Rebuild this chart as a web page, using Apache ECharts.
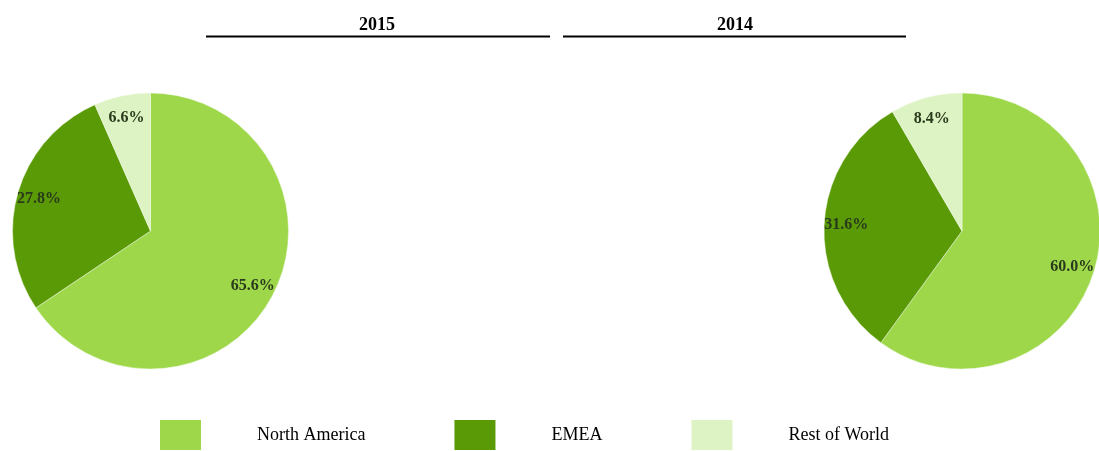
<!DOCTYPE html>
<html>
<head>
<meta charset="utf-8">
<script src="https://cdn.jsdelivr.net/npm/echarts@6/dist/echarts.min.js"></script>
<style>
  html, body { margin: 0; padding: 0; background: #fff; }
  #chart { width: 1099px; height: 451px; }
</style>
</head>
<body>
<div id="chart"></div>
<script>
const regions = ['North America', 'EMEA', 'Rest of World']
const colors = ['#9ed84a', '#5a9a06', '#def3c4']
const years = ['2015', '2014']
const share2015 = [65.6, 27.8, 6.6]
const share2014 = [60.0, 31.6, 8.4]

const chart = echarts.init(document.getElementById('chart'))

const toData = (vals, transparent) =>
  vals.map((v, i) => ({
    name: regions[i],
    value: v,
    itemStyle: { color: transparent ? 'rgba(0,0,0,0)' : colors[i] }
  }))

const pieSeries = (vals, cx) => [
  {
    type: 'pie',
    center: [cx, 231],
    radius: [0, 138],
    startAngle: 90,
    clockwise: true,
    silent: true,
    label: { show: false },
    labelLine: { show: false },
    itemStyle: { borderColor: '#eef8e2', borderWidth: 0.5 },
    data: toData(vals, false)
  },
  {
    // label ring, keeps the percentages out near the rim like the original
    type: 'pie',
    center: [cx, 231],
    radius: [90, 136],
    startAngle: 90,
    clockwise: true,
    silent: true,
    label: {
      show: true,
      position: 'inside',
      formatter: p => p.value.toFixed(1) + '%',
      fontFamily: 'Liberation Serif, serif',
      fontWeight: 'bold',
      fontSize: 16,
      color: '#2a3a1c'
    },
    labelLine: { show: false },
    data: toData(vals, true)
  }
]

chart.setOption({
  animation: false,
  title: [
    { text: years[0], left: 377, top: 16, textAlign: 'center', padding: 0,
      textStyle: { fontFamily: 'Liberation Serif, serif', fontWeight: 'bold', fontSize: 18, color: '#000' } },
    { text: years[1], left: 735, top: 16, textAlign: 'center', padding: 0,
      textStyle: { fontFamily: 'Liberation Serif, serif', fontWeight: 'bold', fontSize: 18, color: '#000' } }
  ],
  graphic: [
    { type: 'line', shape: { x1: 206, y1: 36.5, x2: 550, y2: 36.5 }, style: { stroke: '#000', lineWidth: 2 } },
    { type: 'line', shape: { x1: 563, y1: 36.5, x2: 906, y2: 36.5 }, style: { stroke: '#000', lineWidth: 2 } }
  ],
  legend: {
    left: 160,
    top: 420,
    padding: 0,
    itemWidth: 41,
    itemHeight: 30,
    itemGap: 89,
    icon: 'rect',
    selectedMode: false,
    data: regions.map((r, i) => ({ name: r, itemStyle: { color: colors[i], borderWidth: 0 } })),
    textStyle: {
      fontFamily: 'Liberation Serif, serif',
      fontSize: 18,
      color: '#000',
      padding: [0, 0, 0, 51]
    }
  },
  series: [...pieSeries(share2015, 150.5), ...pieSeries(share2014, 962)]
})
</script>
</body>
</html>
